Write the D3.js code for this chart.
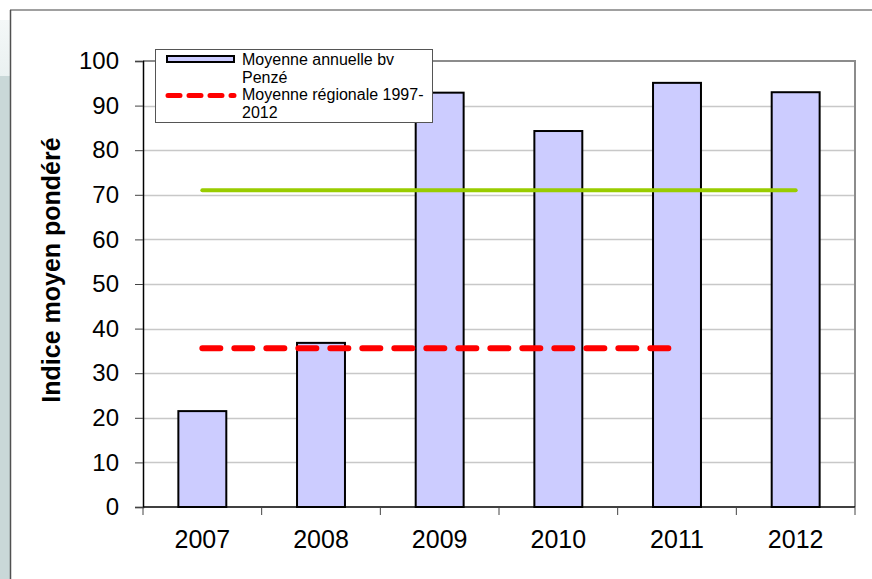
<!DOCTYPE html>
<html>
<head>
<meta charset="utf-8">
<script src="https://cdn.jsdelivr.net/npm/d3@7"></script>
<style>
  body { margin: 0; background: #fff; }
  svg { display: block; font-family: "Liberation Sans", Arial, sans-serif; }
</style>
</head>
<body>
<svg id="chart" width="872" height="579"></svg>
<script>
// data
var years = ["2007", "2008", "2009", "2010", "2011", "2012"];
var annualMean = [21.5, 36.8, 92.9, 84.3, 95.1, 93.0];
var regionalMean = 35.6;          // 2007 -> 2011
var regionalYears = ["2007", "2011"];
var targetLine = 71;              // green, 2007 -> 2012
var targetYears = ["2007", "2012"];
var yTicks = [0, 10, 20, 30, 40, 50, 60, 70, 80, 90, 100];
var legendLabels = [
  ["Moyenne annuelle bv", "Penzé"],
  ["Moyenne régionale 1997-", "2012"]
];
var yTitle = "Indice moyen pondéré";

var svg = d3.select("#chart");
var plot = { left: 143, right: 855, top: 61, bottom: 507 };

// frame round the chart + side strip
var strip = svg.append("defs").append("linearGradient")
  .attr("id", "strip").attr("x1", 0).attr("y1", 0).attr("x2", 0).attr("y2", 1);
strip.append("stop").attr("offset", "0").attr("stop-color", "#f4f8f8");
strip.append("stop").attr("offset", "1").attr("stop-color", "#eaf1f1");
svg.append("rect").attr("x", 0).attr("y", 20).attr("width", 10).attr("height", 56)
  .attr("fill", "url(#strip)");
svg.append("rect").attr("x", 0).attr("y", 76).attr("width", 10).attr("height", 503)
  .attr("fill", "#c9d8d8");
svg.append("line").attr("x1", 10).attr("x2", 872).attr("y1", 10).attr("y2", 10)
  .attr("stroke", "#a0a0a0").attr("stroke-width", 2);
svg.append("line").attr("x1", 10.5).attr("x2", 10.5).attr("y1", 10).attr("y2", 579)
  .attr("stroke", "#505050").attr("stroke-width", 1.5);

var x = d3.scaleBand()
  .domain(years)
  .range([plot.left, plot.right])
  .paddingInner(0.596)
  .paddingOuter(0.298);

var y = d3.scaleLinear()
  .domain([0, 100])
  .range([plot.bottom, plot.top]);

var step = x.step();
var center = function(d) { return x(d) + x.bandwidth() / 2; };

// grid
svg.append("g").selectAll("line")
  .data(yTicks.filter(function(d) { return d > 0 && d < 100; }))
  .enter().append("line")
    .attr("x1", plot.left).attr("x2", plot.right)
    .attr("y1", function(d) { return Math.round(y(d)) + 0.5; })
    .attr("y2", function(d) { return Math.round(y(d)) + 0.5; })
    .attr("stroke", "#c8c8c8").attr("stroke-width", 1.5);

// plot frame top/right
svg.append("path")
  .attr("d", "M" + plot.left + "," + plot.top + "H" + plot.right + "V" + plot.bottom)
  .attr("fill", "none").attr("stroke", "#8c8c8c").attr("stroke-width", 2);

// bars
svg.append("g").selectAll("rect")
  .data(annualMean)
  .enter().append("rect")
    .attr("x", function(d, i) { return x(years[i]); })
    .attr("y", function(d) { return y(d); })
    .attr("width", x.bandwidth())
    .attr("height", function(d) { return y(0) - y(d); })
    .attr("fill", "#ccccff")
    .attr("stroke", "#000").attr("stroke-width", 2);

// y axis
var yAxis = svg.append("g")
  .attr("transform", "translate(" + plot.left + ",0)")
  .call(d3.axisLeft(y).tickValues(yTicks).tickSize(8).tickPadding(16));
yAxis.select(".domain").attr("stroke", "#000").attr("stroke-width", 1.5);
yAxis.selectAll(".tick line").attr("stroke", "#444");
yAxis.selectAll("text").attr("font-size", 24).attr("fill", "#000")
  .attr("font-family", "Liberation Sans, Arial, sans-serif");

// x axis: ticks sit between categories
svg.append("line")
  .attr("x1", plot.left).attr("x2", plot.right)
  .attr("y1", plot.bottom).attr("y2", plot.bottom)
  .attr("stroke", "#000").attr("stroke-width", 1.5);
svg.append("g").selectAll("line")
  .data(d3.range(years.length + 1))
  .enter().append("line")
    .attr("x1", function(i) { return plot.left + i * step; })
    .attr("x2", function(i) { return plot.left + i * step; })
    .attr("y1", plot.bottom).attr("y2", plot.bottom + 8)
    .attr("stroke", "#444");
svg.append("g").selectAll("text")
  .data(years)
  .enter().append("text")
    .attr("x", center)
    .attr("y", 548)
    .attr("text-anchor", "middle")
    .attr("font-size", 25)
    .text(function(d) { return d; });

// y title
svg.append("text")
  .attr("transform", "translate(60,270) rotate(-90)")
  .attr("text-anchor", "middle")
  .attr("font-size", 25)
  .attr("font-weight", "bold")
  .text(yTitle);

// reference lines
svg.append("line")
  .attr("x1", center(targetYears[0])).attr("x2", center(targetYears[1]))
  .attr("y1", y(targetLine)).attr("y2", y(targetLine))
  .attr("stroke", "#99cc00").attr("stroke-width", 4).attr("stroke-linecap", "round");

svg.append("line")
  .attr("x1", center(regionalYears[0])).attr("x2", center(regionalYears[1]))
  .attr("y1", y(regionalMean)).attr("y2", y(regionalMean))
  .attr("stroke", "#ff0000").attr("stroke-width", 6)
  .attr("stroke-linecap", "round").attr("stroke-dasharray", "18,14");

// legend
var legend = svg.append("g");
legend.append("rect")
  .attr("x", 155.5).attr("y", 49.5).attr("width", 277).attr("height", 73)
  .attr("fill", "#fff").attr("stroke", "#555");
legend.append("rect")
  .attr("x", 167).attr("y", 56).attr("width", 67).attr("height", 6)
  .attr("fill", "#ccccff").attr("stroke", "#000").attr("stroke-width", 2);
legend.append("line")
  .attr("x1", 168).attr("x2", 234).attr("y1", 95.5).attr("y2", 95.5)
  .attr("stroke", "#ff0000").attr("stroke-width", 5)
  .attr("stroke-linecap", "round").attr("stroke-dasharray", "12,9");
legend.selectAll("text.l")
  .data(d3.merge(legendLabels))
  .enter().append("text")
    .attr("class", "l")
    .attr("x", 242)
    .attr("y", function(d, i) { return 65 + i * 17.5; })
    .attr("font-size", 16)
    .text(function(d) { return d; });
</script>
</body>
</html>
